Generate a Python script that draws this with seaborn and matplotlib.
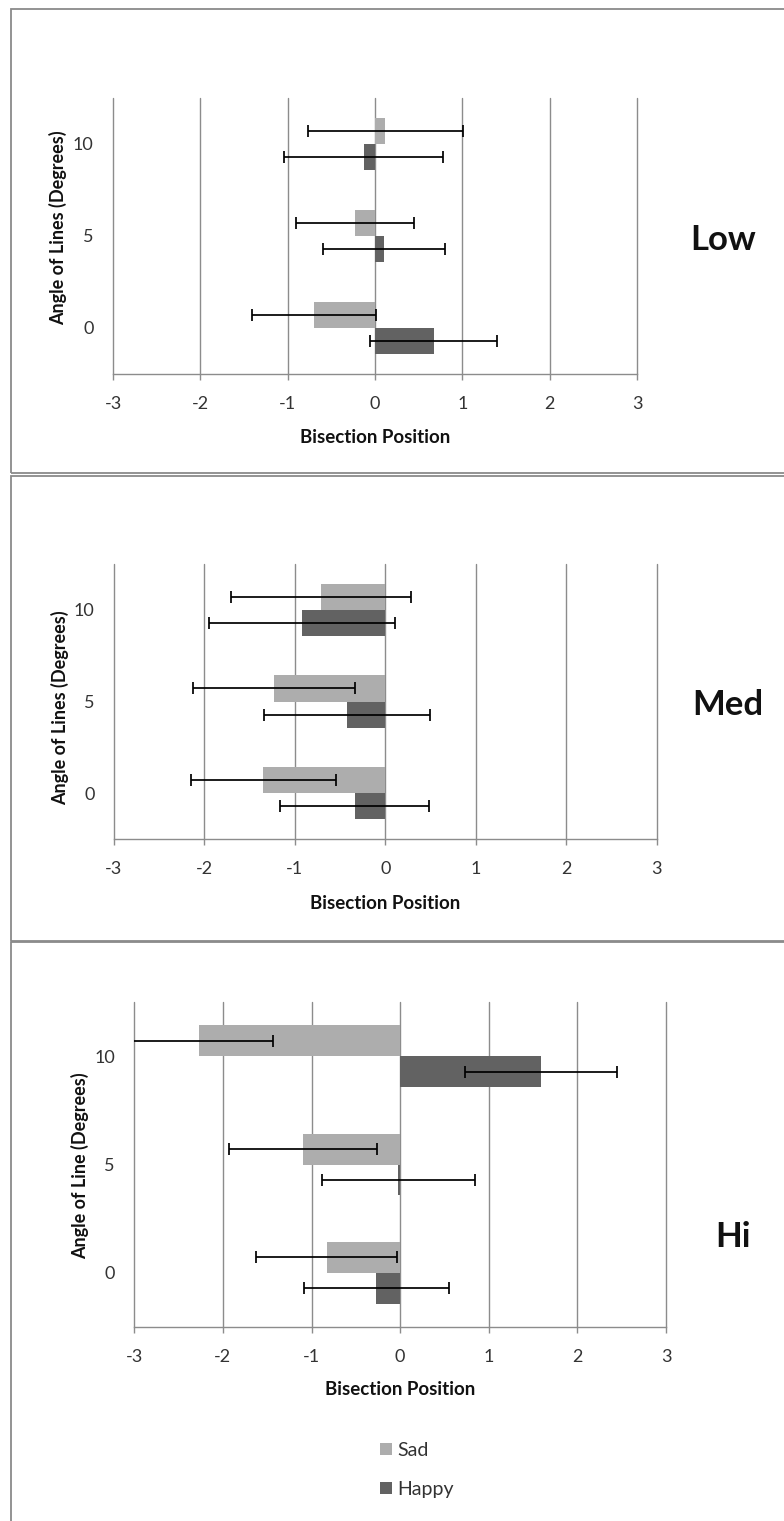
import matplotlib
matplotlib.use("Agg")
import matplotlib.pyplot as plt
from matplotlib.patches import Rectangle, Patch
import seaborn as sns
import pandas as pd

# ---------------- data ----------------
angles = ["0", "5", "10"]
emotions = ["Sad", "Happy"]
x_ticks = [-3, -2, -1, 0, 1, 2, 3]

low_sad = [-0.70, -0.23, 0.12]
low_sad_err = [0.71, 0.675, 0.89]
low_happy = [0.67, 0.10, -0.13]
low_happy_err = [0.725, 0.70, 0.91]

med_sad = [-1.35, -1.23, -0.71]
med_sad_err = [0.80, 0.895, 1.00]
med_happy = [-0.34, -0.42, -0.92]
med_happy_err = [0.82, 0.92, 1.03]

hi_sad = [-0.83, -1.10, -2.27]
hi_sad_err = [0.80, 0.835, 0.83]
hi_happy = [-0.27, -0.02, 1.59]
hi_happy_err = [0.82, 0.86, 0.86]

panel_names = ["Low", "Med", "Hi"]
y_labels = ["Angle of Lines (Degrees)", "Angle of Lines (Degrees)", "Angle of Line (Degrees)"]
x_label = "Bisection Position"

colors = {"Sad": "#ADADAD", "Happy": "#626262"}
grid_col = "#8C8C8C"

sns.set_theme(style="white")
plt.rcParams["font.family"] = ["Lato", "DejaVu Sans"]

W, H = 784, 1521
fig = plt.figure(figsize=(W / 100, H / 100), dpi=100)


def fx(px):
    return px / W


def fy(py):
    return 1 - py / H


# panel boxes (pixel coordinates: top, bottom)
for top, bot in [(9, 473), (476, 941), (942, 1530)]:
    fig.patches.append(Rectangle((fx(11), fy(bot)), fx(800), (bot - top) / H,
                                 transform=fig.transFigure, fill=False,
                                 edgecolor="#8A8A8A", lw=1.3, zorder=0))

# axes rectangles in pixels: left, right, top, bottom
ax_px = [(113, 637, 98, 374), (114, 656.5, 564, 839), (134.3, 666, 1002, 1327)]
ylab_pos = [(-0.087, 0.529), (-0.083, 0.476), (-0.085, 0.495)]
xlab_y = [-0.200, -0.204, -0.166]
name_pos = [(723, 240), (728, 705), (733, 1237)]

datasets = [
    (low_sad, low_sad_err, low_happy, low_happy_err),
    (med_sad, med_sad_err, med_happy, med_happy_err),
    (hi_sad, hi_sad_err, hi_happy, hi_happy_err),
]

order = ["10", "5", "0"]
axes = []
for i, (sad, sad_e, hap, hap_e) in enumerate(datasets):
    l, r, t, b = ax_px[i]
    ax = fig.add_axes([fx(l), fy(b), (r - l) / W, (b - t) / H])
    axes.append(ax)
    df = pd.DataFrame({
        "angle": angles * 2,
        "emotion": ["Sad"] * 3 + ["Happy"] * 3,
        "value": sad + hap,
        "err": sad_e + hap_e,
    })
    sns.barplot(data=df, x="value", y="angle", hue="emotion", order=order,
                hue_order=emotions, palette=colors, orient="h", width=0.57,
                errorbar=None, saturation=1, linewidth=0, legend=False, ax=ax,
                zorder=2)
    for emo, cont in zip(emotions, ax.containers):
        sub = df[df["emotion"] == emo].set_index("angle").reindex(order)
        ys = [p.get_y() + p.get_height() / 2 for p in cont.patches]
        ax.errorbar(sub["value"].values, ys, xerr=sub["err"].values, fmt="none",
                    ecolor="black", elinewidth=1.25, capsize=4, capthick=1.25,
                    zorder=3)
    ax.set_xlim(-3, 3)
    ax.set_ylim(2.5, -0.5)
    ax.set_xticks(x_ticks)
    ax.set_xticklabels([str(v) for v in x_ticks])
    ax.grid(axis="x", color=grid_col, lw=1.0, zorder=1)
    ax.grid(axis="y", visible=False)
    ax.set_axisbelow(True)
    for gl in ax.get_xgridlines():
        gl.set_clip_on(False)
    for s in ["top", "right", "left"]:
        ax.spines[s].set_visible(False)
    ax.spines["bottom"].set_color(grid_col)
    ax.spines["bottom"].set_linewidth(1.0)
    ax.tick_params(axis="x", direction="out", length=4, width=1.0, color=grid_col,
                   pad=12, labelsize=13, labelcolor="#333333", bottom=True)
    ax.tick_params(axis="y", length=0, pad=14, labelsize=13, labelcolor="#333333")
    ax.set_ylabel(y_labels[i], fontsize=13, fontweight="bold", color="#111111")
    ax.yaxis.set_label_coords(*ylab_pos[i])
    ax.set_xlabel(x_label, fontsize=13.5, fontweight="bold", color="#111111")
    ax.xaxis.set_label_coords(0.5, xlab_y[i])
    ax.patch.set_alpha(0)
    nx, ny = name_pos[i]
    fig.text(fx(nx), fy(ny), panel_names[i], ha="center", va="center",
             fontsize=25, fontweight="bold", color="#111111")

handles = [Patch(facecolor=colors[e], edgecolor="none") for e in emotions]
axes[2].legend(handles, emotions, loc="upper left",
               bbox_to_anchor=(fx(370), fy(1432)), bbox_transform=fig.transFigure,
               frameon=False, borderpad=0, fontsize=14, handlelength=0.62,
               handleheight=0.58, handletextpad=0.3, labelspacing=1.15,
               labelcolor="#333333")

fig.savefig("out.png", dpi=100)
